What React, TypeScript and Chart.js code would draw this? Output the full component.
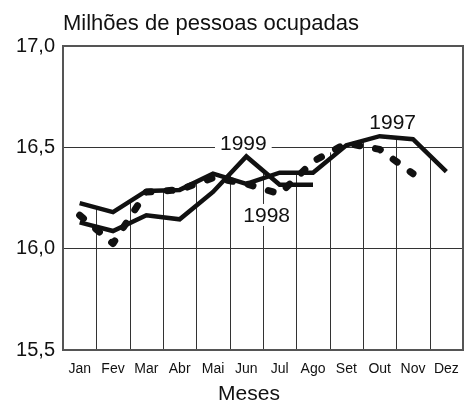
import React, { useEffect, useRef } from "react";
import { Chart, registerables } from "chart.js";

Chart.register(...registerables);

const months = ["Jan", "Fev", "Mar", "Abr", "Mai", "Jun", "Jul", "Ago", "Set", "Out", "Nov", "Dez"];
const yTicks = [15.5, 16.0, 16.5, 17.0];
const s1997 = [16.225, 16.18, 16.285, 16.29, 16.37, 16.32, 16.375, 16.375, 16.51, 16.555, 16.54, 16.38];
const s1998 = [16.165, 16.025, 16.28, 16.29, 16.35, 16.32, 16.27, 16.43, 16.52, 16.49, 16.37, null];
const s1999 = [16.13, 16.087, 16.165, 16.145, 16.28, 16.455, 16.315, 16.315, null, null, null, null];
const seriesNames = ["1997", "1998", "1999"];
const titleText = "Milhões de pessoas ocupadas";
const xTitle = "Meses";

const FONT = "'Liberation Sans', Arial, Helvetica, sans-serif";

const labelSpecs = [
  { text: seriesNames[2], data: s1999, index: 5, dx: -3, dy: -13 },
  { text: seriesNames[1], data: s1998, index: 6, dx: -13, dy: 21 },
  { text: seriesNames[0], data: s1997, index: 9, dx: 13, dy: -14 },
];

const decorPlugin = {
  id: "decor",
  beforeDatasetsDraw(chart: any) {
    const { ctx, chartArea, scales } = chart;
    const xs = scales.x;
    const ys = scales.y;
    ctx.save();
    // partial vertical grid lines (from bottom up to the top curve)
    ctx.strokeStyle = "#333";
    ctx.lineWidth = 1;
    const sets = chart.data.datasets.map((d: any) => d.data);
    for (let k = 1; k < months.length; k++) {
      const x = Math.round((xs.getPixelForValue(k - 1) + xs.getPixelForValue(k)) / 2) + 0.5;
      let top = Infinity;
      for (const arr of sets) {
        const a = arr[k - 1];
        const b = arr[k];
        if (a != null && b != null) {
          const py = ys.getPixelForValue((a + b) / 2);
          if (py < top) top = py;
        }
      }
      if (!isFinite(top)) top = chartArea.top;
      ctx.beginPath();
      ctx.moveTo(x, chartArea.bottom);
      ctx.lineTo(x, top);
      ctx.stroke();
    }
    // frame
    ctx.strokeStyle = "#555";
    ctx.lineWidth = 2;
    ctx.strokeRect(chartArea.left, chartArea.top, chartArea.right - chartArea.left, chartArea.bottom - chartArea.top);
    // series labels with white background
    ctx.font = `21px ${FONT}`;
    ctx.textAlign = "center";
    ctx.textBaseline = "middle";
    for (const s of labelSpecs) {
      const cx = xs.getPixelForValue(s.index) + s.dx;
      const cy = ys.getPixelForValue(s.data[s.index] as number) + s.dy;
      const w = ctx.measureText(s.text).width;
      ctx.fillStyle = "#fff";
      ctx.fillRect(cx - w / 2 - 5, cy - 11, w + 10, 22);
      ctx.fillStyle = "#111";
      ctx.fillText(s.text, cx, cy + 1);
    }
    ctx.restore();
  },
  afterDraw(chart: any) {
    const { ctx, chartArea } = chart;
    ctx.save();
    ctx.fillStyle = "#111";
    ctx.font = `22px ${FONT}`;
    ctx.textAlign = "left";
    ctx.textBaseline = "alphabetic";
    ctx.fillText(titleText, chartArea.left, 30);
    ctx.font = `21px ${FONT}`;
    ctx.textAlign = "center";
    ctx.fillText(xTitle, (chartArea.left + chartArea.right) / 2 - 14, 400);
    ctx.restore();
  },
};

export default function App() {
  const ref = useRef<HTMLCanvasElement | null>(null);
  useEffect(() => {
    if (!ref.current) return;
    const chart = new Chart(ref.current, {
      type: "line",
      data: {
        labels: months,
        datasets: [
          {
            label: seriesNames[0],
            data: s1997,
            borderColor: "#111",
            borderWidth: 4.5,
            pointRadius: 0,
            tension: 0,
            borderJoinStyle: "miter",
            borderCapStyle: "butt",
          },
          {
            label: seriesNames[1],
            data: s1998,
            borderColor: "#111",
            borderWidth: 7,
            pointRadius: 0,
            tension: 0,
            borderDash: [5, 16],
            borderCapStyle: "round",
            borderJoinStyle: "round",
          },
          {
            label: seriesNames[2],
            data: s1999,
            borderColor: "#111",
            borderWidth: 4.5,
            pointRadius: 0,
            tension: 0,
            borderJoinStyle: "miter",
            borderCapStyle: "butt",
          },
        ],
      },
      options: {
        responsive: false,
        animation: false,
        spanGaps: false,
        layout: { padding: { top: 46, right: 1, left: 0, bottom: 0 } },
        plugins: { legend: { display: false }, tooltip: { enabled: false }, title: { display: false } },
        scales: {
          x: {
            offset: true,
            grid: { display: false },
            border: { display: false },
            ticks: { color: "#111", font: { family: FONT, size: 14 }, padding: 3, maxRotation: 0, autoSkip: false },
            afterFit: (s: any) => { s.height = 53; },
          },
          y: {
            min: 15.5,
            max: 17.0,
            afterBuildTicks: (s: any) => { s.ticks = yTicks.map((v) => ({ value: v })); },
            grid: { color: "#333", lineWidth: 1, drawTicks: false },
            border: { display: false },
            ticks: {
              color: "#111",
              font: { family: FONT, size: 20 },
              padding: 8,
              callback: (v: any) => Number(v).toFixed(1).replace(".", ","),
            },
            afterFit: (s: any) => { s.width = 63; },
          },
        },
      },
      plugins: [decorPlugin],
    });
    return () => chart.destroy();
  }, []);
  return (
    <div style={{ position: "fixed", left: 0, top: 0, width: 464, height: 403, background: "#fff" }}>
      <canvas ref={ref} width={464} height={403} style={{ display: "block" }} />
    </div>
  );
}
